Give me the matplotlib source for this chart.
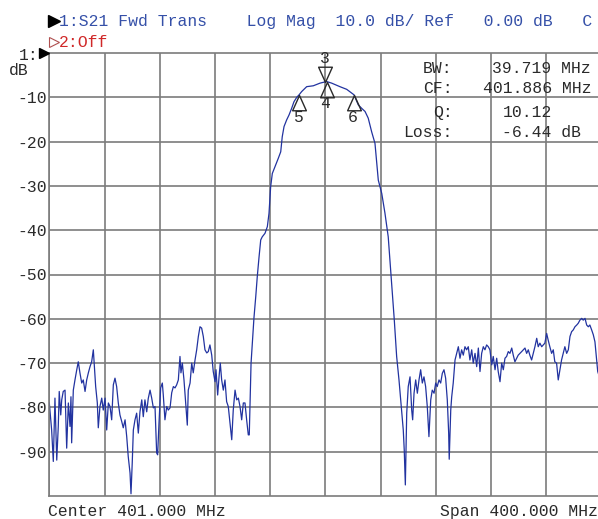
import matplotlib
matplotlib.use("Agg")
import matplotlib.pyplot as plt
from matplotlib.lines import Line2D
from matplotlib.path import Path

# S21 trace (MHz, dB)
freq_mhz = [
    201.0, 202.7, 203.9, 205.1, 206.4, 207.5, 208.2, 209.3, 210.0, 211.1,
    212.4, 213.6, 214.8, 216.0, 216.7, 217.2, 218.4, 219.6, 220.9, 222.0,
    223.2, 224.5, 225.6, 226.9, 228.1, 229.3, 230.5, 231.7, 232.9, 233.6,
    234.6, 235.8, 236.5, 237.7, 239.0, 240.1, 241.4, 242.6, 243.8, 245.0,
    246.2, 247.4, 248.6, 249.8, 251.0, 252.2, 253.5, 254.6, 255.9, 257.1,
    258.2, 259.5, 260.2, 261.1, 261.9, 263.1, 264.3, 265.5, 266.7, 268.0,
    269.1, 270.3, 271.6, 272.7, 274.0, 275.2, 276.4, 277.6, 278.8, 279.5,
    280.5, 281.7, 282.9, 283.6, 284.8, 286.1, 287.2, 288.5, 289.7, 290.9,
    292.1, 293.3, 294.5, 295.7, 296.4, 297.4, 298.6, 299.8, 301.0, 301.7,
    303.0, 304.2, 305.3, 306.6, 307.8, 309.0, 310.2, 311.4, 312.6, 313.8,
    315.1, 316.2, 317.4, 318.7, 319.8, 321.1, 321.8, 323.0, 324.0, 324.9,
    325.9, 327.1, 328.3, 329.5, 330.7, 331.9, 333.2, 334.3, 335.6, 336.8,
    338.0, 339.2, 340.4, 341.6, 342.8, 344.0, 345.2, 345.9, 347.2, 348.4,
    349.3, 350.6, 351.7, 353.0, 354.2, 355.3, 357.3, 359.0, 360.2, 361.4,
    362.6, 364.5, 366.9, 368.7, 369.8, 371.1, 373.0, 374.7, 376.6, 378.3,
    380.3, 382.0, 383.9, 387.5, 392.3, 397.2, 401.0, 401.9, 405.6, 411.6,
    416.5, 421.8, 424.9, 427.4, 429.8, 432.1, 434.6, 437.0, 439.4, 441.9,
    444.2, 446.6, 449.1, 451.0, 452.7, 454.4, 456.3, 457.5, 458.2, 459.0,
    460.0, 461.1, 462.4, 463.6, 464.3, 465.3, 466.5, 467.7, 468.9, 470.1,
    471.3, 472.5, 473.7, 474.9, 476.1, 477.4, 478.5, 479.8, 481.0, 482.1,
    483.4, 484.6, 485.8, 487.0, 488.2, 489.4, 490.4, 490.8, 491.9, 492.6,
    493.7, 495.0, 496.2, 497.4, 498.6, 499.8, 501.0, 502.2, 503.4, 504.6,
    505.8, 507.1, 508.2, 509.5, 510.7, 511.9, 513.1, 514.3, 515.5, 516.7,
    517.9, 519.1, 520.3, 521.6, 522.7, 524.0, 525.2, 526.3, 527.6, 528.8,
    530.0, 531.2, 532.4, 533.6, 534.8, 536.1, 537.2, 538.4, 539.7, 540.8,
    542.1, 543.3, 544.5, 545.7, 546.9, 548.1, 549.2, 550.5, 551.7, 552.9,
    554.2, 555.3, 556.5, 557.8, 558.9, 560.1, 561.4, 562.5, 563.7, 565.0,
    566.2, 567.3, 568.6, 569.8, 571.0, 572.2, 573.4, 574.6, 575.9, 577.1,
    578.3, 579.5, 580.7, 581.9, 583.2, 584.3, 585.5, 586.8, 587.9, 589.2,
    590.4, 591.6, 592.7, 594.0, 595.2, 596.4, 597.6, 598.4, 600.0,
]
s21_db = [
    -79.0, -85.1, -92.2, -77.9, -91.9, -84.3, -76.4, -81.7, -78.3, -76.4,
    -76.1, -89.2, -79.0, -84.3, -77.6, -88.0, -76.1, -73.8, -71.5, -69.7,
    -72.2, -74.5, -73.8, -76.4, -73.8, -72.2, -70.8, -69.7, -67.0, -70.4,
    -75.3, -79.0, -84.6, -79.8, -77.9, -80.6, -77.9, -85.1, -79.0, -79.8,
    -82.8, -74.9, -73.4, -75.3, -79.0, -81.7, -83.2, -84.6, -82.8, -86.6,
    -91.1, -94.8, -99.5, -92.5, -85.1, -82.8, -81.3, -85.8, -81.0, -78.3,
    -82.1, -78.3, -81.0, -78.0, -76.1, -77.9, -80.1, -79.8, -90.3, -90.7,
    -83.5, -75.6, -74.5, -77.2, -82.8, -79.8, -80.6, -80.1, -76.7, -75.3,
    -75.6, -74.9, -73.8, -68.5, -72.2, -70.0, -73.8, -79.0, -84.0, -76.1,
    -74.5, -70.0, -72.2, -69.3, -67.0, -64.0, -61.8, -62.1, -64.0, -67.0,
    -67.7, -67.4, -65.9, -68.2, -71.9, -74.2, -71.5, -77.2, -73.1, -70.0,
    -73.8, -76.1, -73.8, -78.7, -79.8, -83.5, -87.3, -80.6, -76.1, -78.3,
    -77.9, -79.8, -82.8, -79.0, -79.0, -82.8, -86.2, -86.2, -70.0, -64.0,
    -59.8, -55.0, -50.5, -46.0, -42.2, -41.5, -40.7, -39.2, -36.2, -30.2,
    -27.2, -25.7, -23.8, -22.3, -18.9, -16.6, -15.1, -14.0, -12.5, -11.0,
    -10.0, -9.44, -8.7, -7.6, -7.4, -6.8, -6.5, -6.44, -6.8, -7.6,
    -8.2, -9.44, -11.7, -12.5, -13.2, -14.7, -17.8, -20.4, -28.7, -31.7,
    -36.1, -41.5, -52.0, -60.3, -68.5, -73.8, -80.6, -85.1, -89.6, -97.5,
    -81.3, -75.3, -73.1, -80.6, -82.8, -76.8, -73.8, -76.8, -73.8, -71.5,
    -74.5, -73.1, -75.3, -79.8, -86.6, -78.3, -76.1, -76.8, -74.5, -75.3,
    -73.8, -74.5, -72.3, -71.5, -73.4, -78.3, -85.8, -91.7, -80.6, -77.6,
    -74.5, -69.3, -67.8, -66.3, -68.9, -67.0, -68.2, -66.3, -67.0, -66.3,
    -69.3, -67.0, -70.0, -67.8, -70.8, -66.6, -71.9, -67.8, -66.3, -67.0,
    -65.9, -66.3, -67.0, -70.4, -68.5, -71.5, -68.9, -71.9, -74.2, -70.0,
    -71.5, -68.9, -68.5, -67.4, -67.8, -66.6, -68.2, -69.7, -68.9, -68.2,
    -67.8, -67.4, -67.0, -66.6, -67.8, -67.0, -68.2, -69.3, -67.8, -66.3,
    -64.4, -66.3, -65.5, -66.3, -65.9, -65.5, -63.3, -64.8, -66.3, -67.8,
    -67.0, -69.7, -70.0, -73.8, -71.5, -69.3, -67.8, -66.3, -67.8, -67.0,
    -64.0, -62.9, -62.5, -61.8, -61.4, -61.0, -60.3, -59.9, -60.3, -59.9,
    -61.4, -61.8, -61.4, -62.5, -63.6, -65.2, -69.3, -71.9, -73.4,
]

grid_freqs = [201, 241, 281, 321, 361, 401, 441, 481, 521, 561, 601]
y_ticks = [-10, -20, -30, -40, -50, -60, -70, -80, -90]

marker_ids = ["3", "4", "5", "6"]
marker_freq = [401.0, 401.886, 382.03, 421.75]
marker_db = [-6.5, -6.44, -9.44, -9.44]
marker_up = [False, True, True, True]

readout_names = ["BW:", "CF:", "Q:", "Loss:"]
readout_values = ["39.719 MHz", "401.886 MHz", "10.12", "-6.44 dB"]

W, H = 598, 519
MONO = ["Liberation Mono", "DejaVu Sans Mono"]
FS = 11.8
BLUE_TXT = "#3550a8"
TRACE = "#2233a0"
GRID = "#7c7c7c"
DARK = "#2a2a2a"

plt.rcParams["font.family"] = MONO


def fx(x):
    return x / W


def fy(y):
    return 1 - y / H


fig = plt.figure(figsize=(W / 100, H / 100), dpi=100)
fig.patch.set_facecolor("white")

ax = fig.add_axes([49.3 / W, 23 / H, 552 / W, 443 / H])
ax.set_xlim(201, 601)
ax.set_ylim(-100, 0)
ax.set_xticks(grid_freqs)
ax.set_yticks(y_ticks)
ax.set_yticklabels([str(v) for v in y_ticks])
ax.grid(True, color=GRID, lw=1.2)
ax.set_axisbelow(True)
for s in ax.spines.values():
    s.set_color(GRID)
    s.set_linewidth(1.2)
ax.spines["right"].set_visible(False)
ax.tick_params(axis="x", length=0, labelbottom=False)
ax.tick_params(axis="y", length=0, pad=1.5, labelsize=FS, labelcolor=DARK)

ax.plot(freq_mhz, s21_db, color=TRACE, lw=0.9)

# marker triangles, apex sitting on the trace
down_tri = Path([(0, 0), (-0.45, 1), (0.45, 1), (0, 0)],
                [Path.MOVETO, Path.LINETO, Path.LINETO, Path.CLOSEPOLY])
up_tri = Path([(0, 0), (-0.45, -1), (0.45, -1), (0, 0)],
              [Path.MOVETO, Path.LINETO, Path.LINETO, Path.CLOSEPOLY])
for mid, mf, md, up in zip(marker_ids, marker_freq, marker_db, marker_up):
    ax.plot([mf], [md], marker=up_tri if up else down_tri, markersize=22,
            markerfacecolor="none", markeredgecolor=DARK, markeredgewidth=1.0,
            linestyle="none")
    off = -16 if up else 16.5
    ax.annotate(mid, (mf, md), xytext=(-1 if up else 0, off),
                textcoords="offset points", ha="center", va="center",
                fontsize=FS, color=DARK)

# marker readout block
name_y = [72.7, 92.7, 116.7, 136.7]
value_x = [491.7, 482.7, 503.3, 501.7]
for name, val, yy, vx in zip(readout_names, readout_values, name_y, value_x):
    fig.text(fx(452.5), fy(yy), name, ha="right", va="baseline",
             fontsize=FS, color=DARK)
    fig.text(fx(vx), fy(yy), val, ha="left", va="baseline",
             fontsize=FS, color=DARK)

# header
header = "1:S21 Fwd Trans    Log Mag  10.0 dB/ Ref   0.00 dB   C"
fig.text(fx(59), fy(26), header, ha="left", va="baseline",
         fontsize=FS, color=BLUE_TXT)
fig.text(fx(58.5), fy(46.7), "2:Off", ha="left", va="baseline",
         fontsize=FS, color="#d02828")
fig.add_artist(Line2D([fx(54)], [fy(20.5)], marker=">", markersize=8,
                      color="black", linestyle="none",
                      transform=fig.transFigure))
fig.add_artist(Line2D([fx(53.5)], [fy(41.5)], marker=">", markersize=7.5,
                      markerfacecolor="none", markeredgecolor="#b05050",
                      markeredgewidth=0.8, linestyle="none",
                      transform=fig.transFigure))

# reference position label
fig.text(fx(19), fy(60), "1:", ha="left", va="baseline",
         fontsize=FS, color=DARK)
fig.add_artist(Line2D([fx(44)], [fy(53.3)], marker=">", markersize=7.5,
                      color="black", linestyle="none",
                      transform=fig.transFigure))
fig.text(fx(9), fy(75), "dB", ha="left", va="baseline",
         fontsize=FS, color=DARK)

# footer
fig.text(fx(48.5), fy(516), "Center 401.000 MHz", ha="left", va="baseline",
         fontsize=FS, color=DARK)
fig.text(fx(439.5), fy(516), "Span 400.000 MHz", ha="left", va="baseline",
         fontsize=FS, color=DARK)

fig.savefig("out.png", dpi=100, facecolor="white")
